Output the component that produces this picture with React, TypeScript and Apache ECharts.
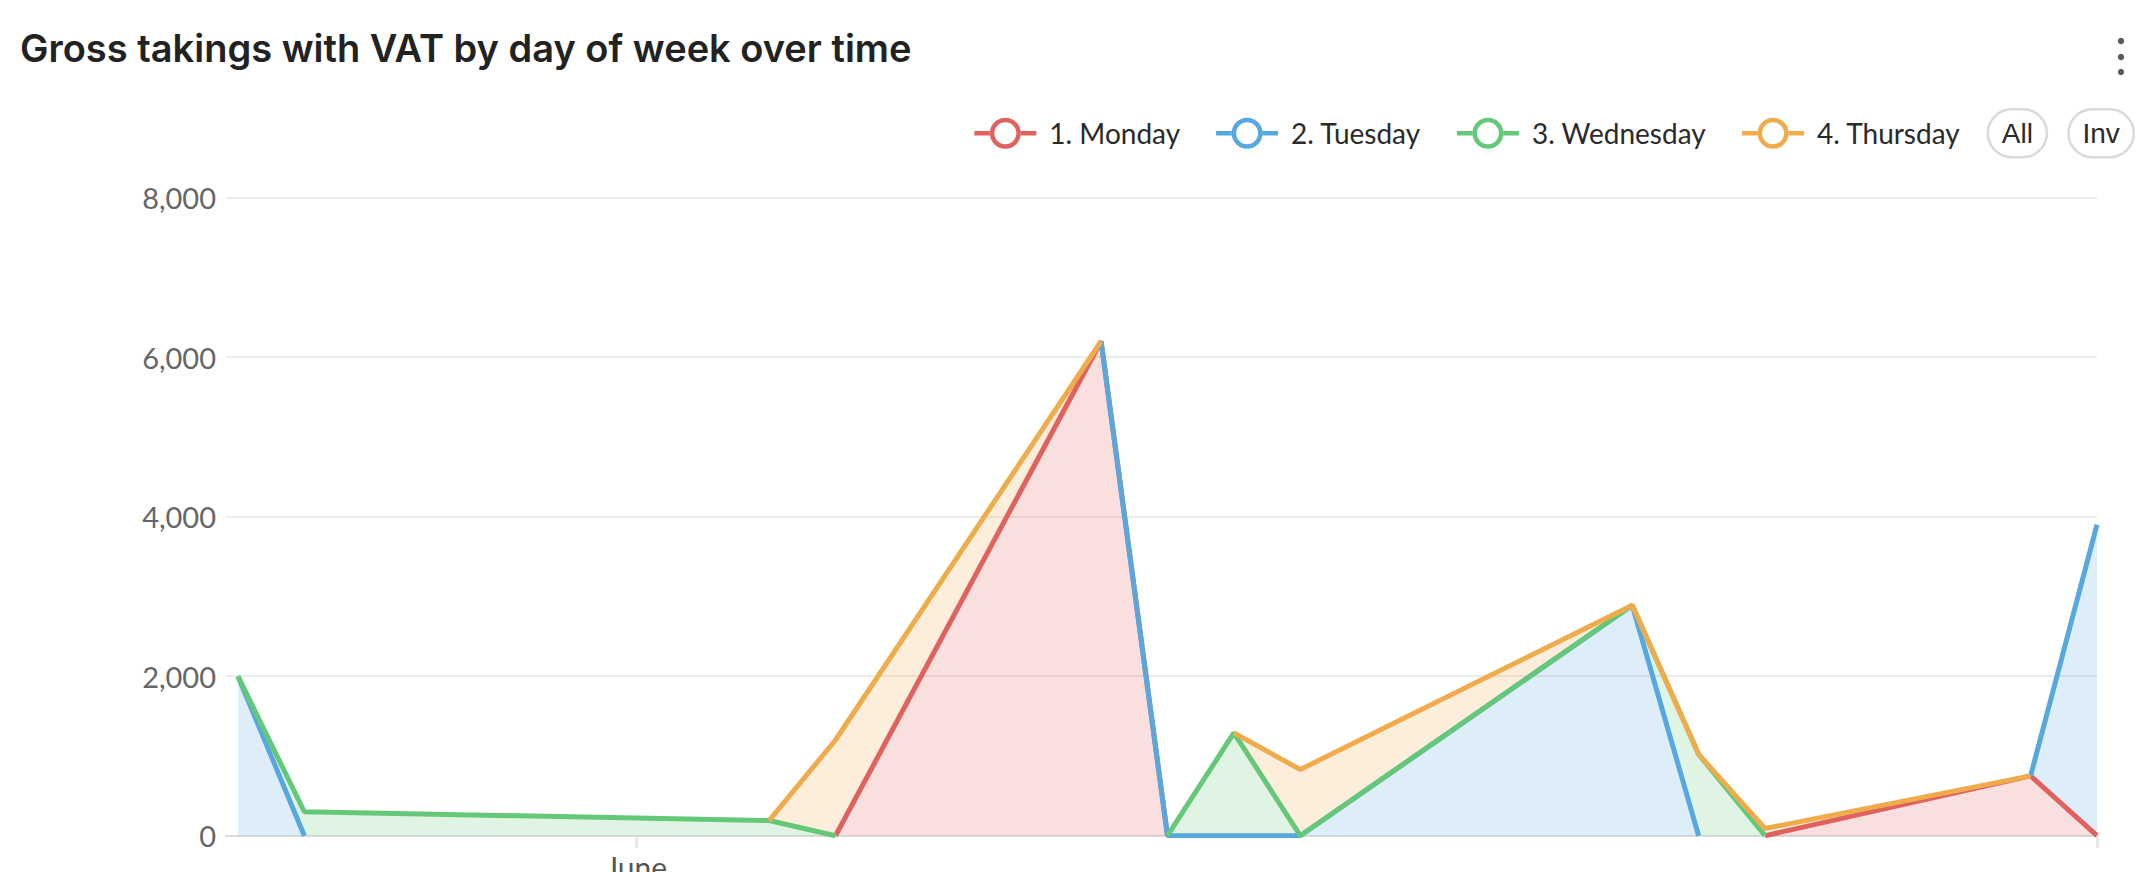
import React, { useEffect, useRef } from "react";
import * as echarts from "echarts";

// ---- data ----
const dates = [
  "2020-05-26", "2020-05-27", "2020-06-03", "2020-06-04", "2020-06-08",
  "2020-06-09", "2020-06-10", "2020-06-11", "2020-06-16", "2020-06-17",
  "2020-06-18", "2020-06-22", "2020-06-23",
];
const seriesNames = ["1. Monday", "2. Tuesday", "3. Wednesday", "4. Thursday"];
const monday = [null, null, null, 0, 6200, 0, null, null, null, null, 0, 750, 0];
const tuesday = [2000, 0, null, null, 0, 0, 0, 0, 2890, 0, null, 0, 3900];
const wednesday = [0, 300, 190, 0, null, 0, 1290, 0, 0, 1020, 0, null, null];
const thursday = [null, null, 0, 1200, 0, null, 0, 830, 0, 0, 90, 0, null];
const seriesValues = [monday, tuesday, wednesday, thursday];
const colors = ["#E0625F", "#56A8DE", "#65C879", "#F0AC4C"];
const xTickLabels = ["June"];
const xTickDates = ["2020-06-01"];
const title = "Gross takings with VAT by day of week over time";

const toTs = (s: string) => {
  const [y, m, d] = s.split("-").map(Number);
  return new Date(y, m - 1, d).getTime();
};

const DAY = 86400000;

const legendIcon =
  "path://M0,13.25H15.75V17.75H0Z M46.25,13.25H62V17.75H46.25Z " +
  "M15.5,15.5A15.5,15.5 0 1,0 46.5,15.5A15.5,15.5 0 1,0 15.5,15.5Z " +
  "M20,15.5A11,11 0 1,1 42,15.5A11,11 0 1,1 20,15.5Z";

export default function App() {
  const ref = useRef<HTMLDivElement>(null);

  useEffect(() => {
    document.body.style.margin = "0";
    const chart = echarts.init(ref.current!, null, { renderer: "svg" });
    const xs = dates.map(toTs);
    const minX = xs[0] - 0.18 * DAY;
    const maxX = xs[xs.length - 1];
    const tickVals = xTickDates.map(toTs);

    chart.setOption({
      animation: false,
      textStyle: { fontFamily: "Lato" },
      color: colors,
      title: {
        text: title,
        left: 15,
        top: 24,
        textStyle: { fontSize: 38, fontWeight: 600, color: "#222", fontFamily: "Inter" },
      },
      legend: {
        data: seriesNames,
        right: 4,
        top: 103,
        icon: legendIcon,
        itemWidth: 62,
        itemHeight: 31,
        itemGap: 36,
        textStyle: { fontSize: 28, color: "#2a2a2a", padding: [0, 0, 0, 8] },
        selector: [
          { type: "all", title: "All" },
          { type: "inverse", title: "Inv" },
        ],
        selectorLabel: {
          fontSize: 28,
          color: "#2a2a2a",
          borderColor: "#dadada",
          borderWidth: 2.5,
          borderRadius: 24,
          padding: [10, 14, 10, 14],
        },
        selectorItemGap: 19,
        selectorButtonGap: 26,
      },
      grid: { left: 226, right: 47, top: 197.7, bottom: 36.3, outerBoundsMode: "none" },
      xAxis: [
        {
          type: "time",
          position: "bottom",
          min: minX,
          max: maxX,
          axisLine: { show: false },
          axisTick: { show: false },
          axisLabel: { show: false },
          splitLine: { show: false },
        },
        {
          type: "value",
          position: "bottom",
          min: minX,
          max: maxX,
          axisLine: { show: true, lineStyle: { color: "#dcdcdc", width: 2 } },
          axisTick: {
            show: true,
            customValues: [...tickVals, maxX],
            length: 12,
            lineStyle: { color: "#e4e4e4", width: 2.5 },
          },
          axisLabel: {
            customValues: tickVals,
            formatter: (v: number) => {
              const i = tickVals.indexOf(v);
              return i >= 0 ? xTickLabels[i] : "";
            },
            fontSize: 30,
            color: "#555",
            margin: 16,
          },
          splitLine: { show: false },
        },
      ],
      yAxis: {
        type: "value",
        min: 0,
        max: 8000,
        interval: 2000,
        axisLine: { show: false },
        axisTick: { show: false },
        axisLabel: { fontSize: 29, color: "#666", margin: 10 },
        splitLine: { lineStyle: { color: "#ececec", width: 2 } },
      },
      series: seriesNames.map((name, si) => ({
        name,
        type: "line",
        xAxisIndex: 0,
        stack: "total",
        symbol: "emptyCircle",
        showSymbol: false,
        lineStyle: { width: 5, color: colors[si] },
        itemStyle: { color: colors[si] },
        areaStyle: { color: colors[si], opacity: 0.2 },
        data: xs.map((x, i) => [x, seriesValues[si][i]]),
      })),
      graphic: [
        { type: "circle", shape: { cx: 2121, cy: 41, r: 3.2 }, style: { fill: "#5a5a5a" } },
        { type: "circle", shape: { cx: 2121, cy: 57, r: 3.2 }, style: { fill: "#5a5a5a" } },
        { type: "circle", shape: { cx: 2121, cy: 72, r: 3.2 }, style: { fill: "#5a5a5a" } },
      ],
    });
    return () => chart.dispose();
  }, []);

  return (
    <div
      ref={ref}
      style={{ position: "fixed", left: 0, top: 0, width: 2144, height: 872, background: "#fff" }}
    />
  );
}
